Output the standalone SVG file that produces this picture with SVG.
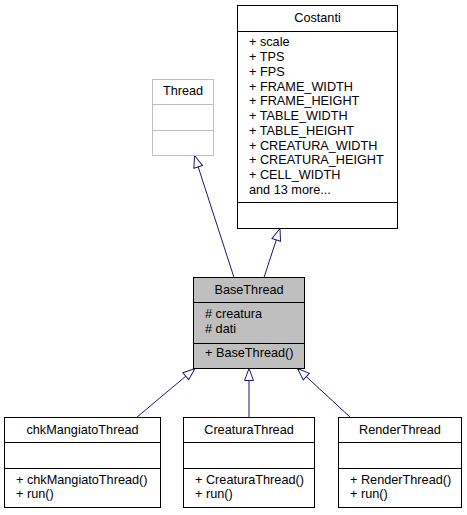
<svg xmlns="http://www.w3.org/2000/svg" width="467" height="515" viewBox="0 0 467 515">
<style>
text{font-family:"Liberation Sans",Arial,sans-serif;font-size:12.7px;fill:#000}
.t{text-anchor:middle}
.box{fill:#fff;stroke:#000;stroke-width:1}
.gray{fill:#fff;stroke:#bfbfbf;stroke-width:1}
.cur{fill:#bfbfbf;stroke:#000;stroke-width:1}
.div{stroke:#000;stroke-width:1}
.divg{stroke:#bfbfbf;stroke-width:1}
.edge{stroke:#191970;stroke-width:1;fill:none;marker-end:url(#inh)}
</style>
<defs>
<marker id="inh" viewBox="-14 -7 16 14" refX="0" refY="0" markerWidth="16" markerHeight="14" markerUnits="userSpaceOnUse" orient="auto">
<path d="M0,0 L-12,-4.5 L-12,4.5 Z" fill="#fff" stroke="#191970" stroke-width="1"/>
</marker>
</defs>
<rect width="467" height="515" fill="#fff"/>
<g id="edges">
<line class="edge" x1="234" y1="277.5" x2="194.5" y2="155.5"/>
<line class="edge" x1="264" y1="277.5" x2="280" y2="228.5"/>
<line class="edge" x1="136.5" y1="417.5" x2="195" y2="368.5"/>
<line class="edge" x1="249" y1="417.5" x2="249" y2="368.5"/>
<line class="edge" x1="350.5" y1="417.5" x2="297.5" y2="368.5"/>
</g>
<g id="Thread">
<rect class="gray" x="152.5" y="79.5" width="61" height="76"/>
<line class="divg" x1="152.5" y1="104.5" x2="213.5" y2="104.5"/>
<line class="divg" x1="152.5" y1="130.5" x2="213.5" y2="130.5"/>
<text class="t" x="183" y="94.5">Thread</text>
</g>
<g id="Costanti">
<rect class="box" x="237.5" y="5.5" width="160" height="223"/>
<line class="div" x1="237.5" y1="31.5" x2="397.5" y2="31.5"/>
<line class="div" x1="237.5" y1="202.5" x2="397.5" y2="202.5"/>
<text class="t" x="317.5" y="22">Costanti</text>
<text x="249" y="46.3">+ scale</text>
<text x="249" y="61">+ TPS</text>
<text x="249" y="75.8">+ FPS</text>
<text x="249" y="90.5">+ FRAME_WIDTH</text>
<text x="249" y="105.3">+ FRAME_HEIGHT</text>
<text x="249" y="120">+ TABLE_WIDTH</text>
<text x="249" y="134.8">+ TABLE_HEIGHT</text>
<text x="249" y="149.5">+ CREATURA_WIDTH</text>
<text x="249" y="164.3">+ CREATURA_HEIGHT</text>
<text x="249" y="179">+ CELL_WIDTH</text>
<text x="249" y="193.8">and 13 more...</text>
</g>
<g id="BaseThread">
<rect class="cur" x="193.5" y="277.5" width="111" height="91"/>
<line class="div" x1="193.5" y1="302.5" x2="304.5" y2="302.5"/>
<line class="div" x1="193.5" y1="343.5" x2="304.5" y2="343.5"/>
<text class="t" x="249" y="294">BaseThread</text>
<text x="205" y="318.3"># creatura</text>
<text x="205" y="332.5"># dati</text>
<text x="205" y="357">+ BaseThread()</text>
</g>
<g id="chkMangiatoThread">
<rect class="box" x="4.5" y="417.5" width="156" height="90"/>
<line class="div" x1="4.5" y1="442.5" x2="160.5" y2="442.5"/>
<line class="div" x1="4.5" y1="468.5" x2="160.5" y2="468.5"/>
<text class="t" x="82.5" y="434">chkMangiatoThread</text>
<text x="16" y="484">+ chkMangiatoThread()</text>
<text x="16" y="498">+ run()</text>
</g>
<g id="CreaturaThread">
<rect class="box" x="183.5" y="417.5" width="131" height="90"/>
<line class="div" x1="183.5" y1="442.5" x2="314.5" y2="442.5"/>
<line class="div" x1="183.5" y1="468.5" x2="314.5" y2="468.5"/>
<text class="t" x="249" y="434">CreaturaThread</text>
<text x="195" y="484">+ CreaturaThread()</text>
<text x="195" y="498">+ run()</text>
</g>
<g id="RenderThread">
<rect class="box" x="338.5" y="417.5" width="123" height="90"/>
<line class="div" x1="338.5" y1="442.5" x2="461.5" y2="442.5"/>
<line class="div" x1="338.5" y1="468.5" x2="461.5" y2="468.5"/>
<text class="t" x="400" y="434">RenderThread</text>
<text x="350" y="484">+ RenderThread()</text>
<text x="350" y="498">+ run()</text>
</g>
</svg>
